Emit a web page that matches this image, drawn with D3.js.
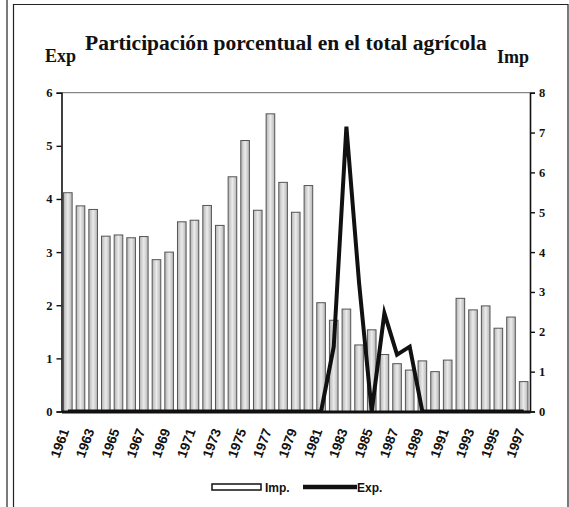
<!DOCTYPE html>
<html><head><meta charset="utf-8">
<script src="https://cdn.jsdelivr.net/npm/d3@7"></script>
<style>body{margin:0;background:#fff;}svg{display:block;}</style>
</head><body>
<svg id="c" width="569" height="507"></svg>
<script>
const years = d3.range(1961, 1998);
const impValues = [5.49,5.16,5.07,4.40,4.43,4.36,4.39,3.81,4.00,4.76,4.80,5.17,4.67,5.89,6.80,5.05,7.47,5.75,5.00,5.67,2.73,2.29,2.57,1.67,2.05,1.43,1.20,1.04,1.27,1.00,1.29,2.84,2.55,2.65,2.09,2.37,0.75];
const expValues = [0,0,0,0,0,0,0,0,0,0,0,0,0,0,0,0,0,0,0,0,0,1.22,5.36,2.42,0,1.85,1.07,1.22,0,0,0,0,0,0,0,0,0];
const expTicks = [0,1,2,3,4,5,6];
const impTicks = [0,1,2,3,4,5,6,7,8];
const title = "Participación porcentual en el total agrícola";
const legendLabels = ["Imp.", "Exp."];

const svg = d3.select("#c");
const L = 61.5, R = 530, T = 92.7, B = 411.5;

// frame
svg.append("line").attr("x1",7).attr("x2",7).attr("y1",0).attr("y2",507).attr("stroke","#222").attr("stroke-width",1.2);
svg.append("path").attr("d","M13.5,507V4.5H568V507").attr("fill","none").attr("stroke","#222").attr("stroke-width",1.2);

const x = d3.scaleBand().domain(years).range([L, R]).paddingInner(0.32).paddingOuter(0.16);
const yExp = d3.scaleLinear().domain([0,6]).range([B, T]);
const yImp = d3.scaleLinear().domain([0,8]).range([B, T]);

const defs = svg.append("defs");
const g = defs.append("linearGradient").attr("id","bg").attr("x1","0").attr("x2","1").attr("y1","0").attr("y2","0");
g.append("stop").attr("offset","0").attr("stop-color","#b4b4b4");
g.append("stop").attr("offset","0.5").attr("stop-color","#ebebeb");
g.append("stop").attr("offset","1").attr("stop-color","#b4b4b4");
defs.append("clipPath").attr("id","clip").append("rect").attr("x",L).attr("y",T-10).attr("width",R-L).attr("height",B-T+11);

// top border of plot
svg.append("line").attr("x1",L).attr("x2",R).attr("y1",T).attr("y2",T).attr("stroke","#888").attr("stroke-width",1.2);

// bars
svg.append("g").selectAll("rect").data(years).join("rect")
  .attr("x", d => x(d)).attr("width", x.bandwidth())
  .attr("y", (d,i) => yImp(impValues[i])).attr("height", (d,i) => B - yImp(impValues[i]))
  .attr("fill","url(#bg)").attr("stroke","#555").attr("stroke-width",1);

// axes
const axL = svg.append("g").attr("transform",`translate(${L},0)`).call(d3.axisLeft(yExp).tickValues(expTicks).tickSize(5).tickPadding(4).tickFormat(d3.format("d")));
const axR = svg.append("g").attr("transform",`translate(${R},0)`).call(d3.axisRight(yImp).tickValues(impTicks).tickSize(5).tickPadding(4).tickFormat(d3.format("d")));
[axL, axR].forEach(a => {
  a.select(".domain").attr("stroke","#111").attr("stroke-width",1.6);
  a.selectAll(".tick line").attr("stroke","#111").attr("stroke-width",1.4);
  a.selectAll("text").attr("font-family","'Liberation Serif', serif").attr("font-weight","bold").attr("font-size",12.5).attr("fill","#111");
});
const axB = svg.append("g").attr("transform",`translate(0,${B})`).call(d3.axisBottom(x).tickSize(0).tickFormat(""));
axB.select(".domain").attr("stroke","#111").attr("stroke-width",3);

// x labels
svg.append("g").selectAll("text").data(years.filter(d => d % 2 === 1)).join("text")
  .attr("transform", d => `translate(${x(d) + x.bandwidth()/2 - 3},${429}) rotate(-70)`)
  .attr("text-anchor","end").attr("dy","0.35em")
  .attr("font-family","'Liberation Sans Narrow','Arial Narrow',sans-serif").attr("font-weight","bold").attr("font-size",13.5).attr("fill","#111")
  .text(d => d);

// exp line
const line = d3.line().x((d,i) => x(years[i]) + x.bandwidth()/2).y(d => yExp(d));
svg.append("path").datum(expValues).attr("clip-path","url(#clip)").attr("d", line).attr("fill","none").attr("stroke","#111").attr("stroke-width",4).attr("stroke-linejoin","miter").attr("stroke-miterlimit",10);

// title
const tt = svg.append("text").attr("x",85).attr("y",50).attr("font-family","'Liberation Serif', serif").attr("font-weight","bold").attr("font-size",17).attr("fill","#111").text(title);
const w = tt.node().getComputedTextLength();
tt.attr("font-size", 17 * 402 / w);
svg.append("text").attr("x",45).attr("y",62).attr("font-family","'Liberation Serif', serif").attr("font-weight","bold").attr("font-size",18).attr("fill","#111").text("Exp");
svg.append("text").attr("x",497).attr("y",63).attr("font-family","'Liberation Serif', serif").attr("font-weight","bold").attr("font-size",18).attr("fill","#111").text("Imp");

// legend
const lg = svg.append("g");
lg.append("rect").attr("x",212).attr("y",484).attr("width",49).attr("height",6).attr("fill","#fff").attr("stroke","#111").attr("stroke-width",1.5);
lg.append("text").attr("x",265).attr("y",492).attr("font-family","'Liberation Sans Narrow','Arial Narrow',sans-serif").attr("font-weight","bold").attr("font-size",12).attr("fill","#111").text(legendLabels[0]);
lg.append("line").attr("x1",303).attr("x2",357).attr("y1",487).attr("y2",487).attr("stroke","#111").attr("stroke-width",4.5);
lg.append("text").attr("x",357).attr("y",492).attr("font-family","'Liberation Sans Narrow','Arial Narrow',sans-serif").attr("font-weight","bold").attr("font-size",12).attr("fill","#111").text(legendLabels[1]);
</script>
</body></html>
